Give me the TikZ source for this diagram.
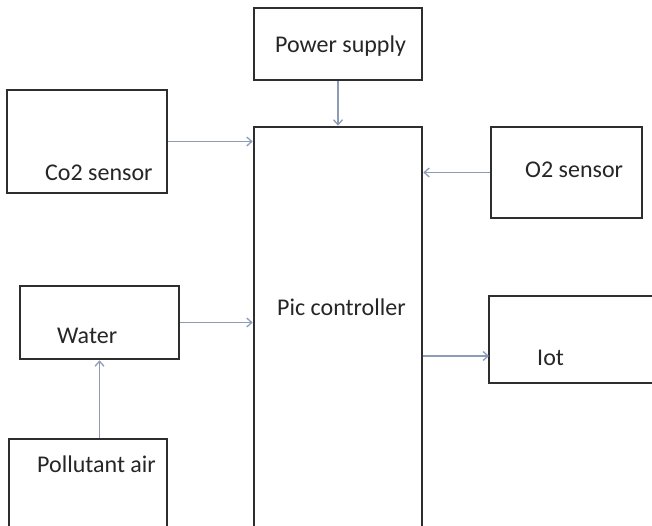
\documentclass[tikz,border=0pt]{standalone}
\usepackage{fontspec}
\setmainfont{Carlito}
\usetikzlibrary{arrows.meta}
\definecolor{edge}{HTML}{2E2E2E}
\definecolor{wire}{HTML}{8C9CB6}
\definecolor{ink}{HTML}{262626}

\begin{document}
\begin{tikzpicture}[x=1pt, y=-1pt,
  blk/.style={draw=edge, fill=white, line width=2.6pt, inner sep=0pt},
  lbl/.style={font=\fontsize{24}{28}\selectfont, text=ink, inner sep=0pt},
  link/.style={draw=wire, line width=1.3pt, -{Straight Barb[length=5pt, width=9pt]}},
]
\useasboundingbox (0,0) rectangle (652,526);
\clip (0,0) rectangle (652,526);

% --- blocks ---
\node[blk, minimum width=168pt, minimum height=72pt]  (power) at (338,44)    {};
\node[blk, minimum width=168pt, minimum height=418pt] (pic)   at (338,336)   {};
\node[blk, minimum width=160pt, minimum height=103pt] (co2)   at (87,141.5)  {};
\node[blk, minimum width=151pt, minimum height=91pt]  (o2)    at (566.5,172.5) {};
\node[blk, minimum width=159pt, minimum height=73pt]  (water) at (99.5,322.5) {};
\node[blk, minimum width=158pt, minimum height=101pt] (poll)  at (88,489.5)  {};
\node[blk, minimum width=181pt, minimum height=87pt]  (iot)   at (579.5,339.5) {};

% --- texts ---
\node[lbl, anchor=base west] (powertxt) at (275,53)  {Power supply};
\node[lbl, anchor=base west] (pictxt)   at (277,315) {Pic controller};
\node[lbl, anchor=base west] (co2txt)   at (45,181)  {Co2 sensor};
\node[lbl, anchor=base west] (o2txt)    at (525,178) {O2 sensor};
\node[lbl, anchor=base west] (watertxt) at (57,343)  {Water};
\node[lbl, anchor=base west] (polltxt)  at (37,472)  {Pollutant air};
\node[lbl, anchor=base west] (iottxt)   at (537,365) {Iot};

% --- links ---
\coordinate (iotin) at (489,356);
\draw[link] (power) -- (pic);
\draw[link] (co2) -- (co2 -| pic.west);
\draw[link] (o2) -- (o2 -| pic.east);
\draw[link] (water) -- (water -| pic.west);
\draw[link] (poll.north -| water.south) -- (water.south);
\draw[link] (pic.east |- iotin) -- (iotin);

\end{tikzpicture}
\end{document}
